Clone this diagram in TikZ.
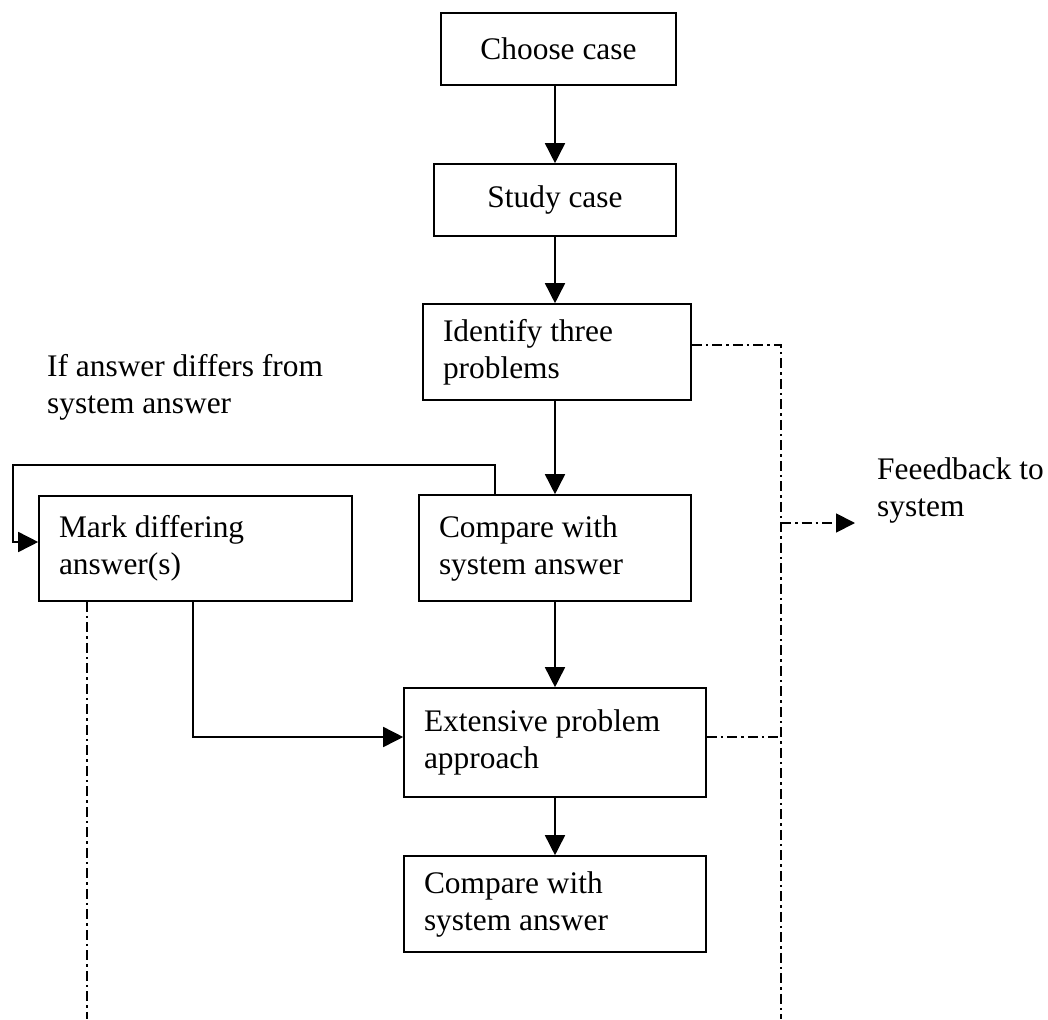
\documentclass[tikz,border=0pt]{standalone}
\usepackage{fontspec}
\setmainfont{Liberation Serif}
\usetikzlibrary{arrows.meta}
\begin{document}
\begin{tikzpicture}[x=1pt,y=-1pt,
  box/.style={draw,line width=1.6pt,rectangle,inner xsep=20pt,inner ysep=0pt,font=\fontsize{31.4}{37}\selectfont,align=flush left},
  arr/.style={line width=1.6pt,-{Triangle[length=20pt,width=20pt]}},
  dd/.style={line width=1.8pt,dash pattern=on 10pt off 4pt on 2.5pt off 4pt},
  lbl/.style={font=\fontsize{31.4}{37}\selectfont,align=flush left,inner sep=0pt}]
\useasboundingbox (0,0) rectangle (1048,1019);

\node[box,text width=195pt,align=flush center,minimum height=72pt] (choose) at (558.5,49) {Choose case};
\node[box,text width=202pt,align=flush center,minimum height=72pt] (study) at (555,200) {Study case};
\node[box,text width=228pt,minimum height=96pt] (ident) at (557,352) {Identify three\\problems};
\node[box,text width=232pt,minimum height=106pt] (cmp1) at (555,548) {Compare with\\system answer};
\node[box,text width=273pt,minimum height=105pt] (mark) at (195.5,548.5) {Mark differing\\answer(s)};
\node[box,text width=262pt,minimum height=109pt] (ext) at (555,742.5) {Extensive problem\\approach};
\node[box,text width=262pt,minimum height=96pt] (cmp2) at (555,904) {Compare with\\system answer};

\node[lbl,anchor=base west] (cond) at (47,413) {If answer differs from\\system answer};
\node[lbl,anchor=base west] (fbtxt) at (877,516) {Feeedback to\\system};

% main flow
\draw[arr] (choose.south -| study.north) -- (study.north);
\draw[arr] (study.south) -- (study.south |- ident.north);
\draw[arr] (ident.south -| cmp1.north) -- (cmp1.north);
\draw[arr] (cmp1.south) -- (ext.north);
\draw[arr] (ext.south) -- (cmp2.north);

% loop back to mark
\coordinate (l1) at (495,465);
\coordinate (l2) at (13,465);
\coordinate (l3) at (13,542);
\draw[arr] (cmp1.north -| l1) -- (l1) -- (l2) -- (l3) -- (l3 -| mark.west);

% mark to extensive
\coordinate (m1) at (193,737);
\draw[arr] (mark.south -| m1) -- (m1) -- (m1 -| ext.west);

% feedback dash-dot lines
\coordinate (fb) at (781,345);
\coordinate (fbb) at (781,1019);
\coordinate (e1) at (781,737);
\coordinate (f0) at (781,523);
\coordinate (ftip) at (855,523);
\draw[dd] (ident.east |- fb) -- (fb) -- (fbb);
\draw[dd] (e1 -| ext.east) -- (e1);
\draw[dd,-{Triangle[length=19pt,width=19pt]}] (f0) -- (ftip);

\coordinate (mb) at (87,1019);
\draw[dd] (mark.south -| mb) -- (mb);
\end{tikzpicture}
\end{document}
